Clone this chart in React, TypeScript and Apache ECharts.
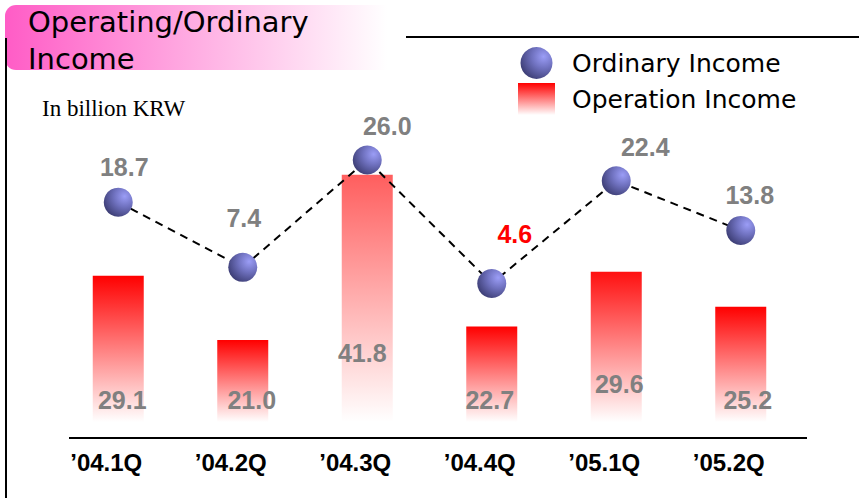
import React, { useEffect, useRef } from 'react';
import * as echarts from 'echarts';

// ---- data ----
const categories = ['’04.1Q', '’04.2Q', '’04.3Q', '’04.4Q', '’05.1Q', '’05.2Q'];
const ordinaryIncome = [18.7, 7.4, 26.0, 4.6, 22.4, 13.8];
const operationIncome = [29.1, 21.0, 41.8, 22.7, 29.6, 25.2];
const seriesNames = ['Ordinary Income', 'Operation Income'];
const titleText = 'Operating/Ordinary\nIncome';
const unitText = 'In billion KRW';

// ---- label placement / styles (not data) ----
const ordinaryLabelOffsets = [[6, -35], [1, -49], [20, -34], [23, -50], [29, -34], [9, -35]];
const ordinaryLabelColors = ['#808080', '#808080', '#808080', '#ff0000', '#808080', '#808080'];
const operationLabelDistance = [10, 10, 57, 10, 26, 10];
const operationLabelDx = [4, 9, -5, -2, 3, 7];
const operationTopColors = ['#ff0000', '#ff0000', '#ff5e5e', '#ff0000', '#ff1010', '#ff0000'];

const barGradient = (top: string) =>
  new echarts.graphic.LinearGradient(0, 0, 0, 1, [
    { offset: 0, color: top },
    { offset: 1, color: '#ffffff' },
  ]);

const ballGradient = () =>
  new echarts.graphic.RadialGradient(0.72, 0.3, 0.8, [
    { offset: 0, color: '#9b9df6' },
    { offset: 0.45, color: '#7072c0' },
    { offset: 1, color: '#3c3d74' },
  ]);

export default function App() {
  const ref = useRef<HTMLDivElement>(null);

  useEffect(() => {
    if (!ref.current) return;
    const chart = echarts.init(ref.current, null, { renderer: 'svg' });

    const barMin = 10.7;
    const option: any = {
      animation: false,
      backgroundColor: '#ffffff',
      grid: { left: 56, right: 56, top: 100, bottom: 76 },
      legend: {
        orient: 'vertical',
        left: 518,
        top: 47,
        padding: 0,
        itemWidth: 37,
        itemHeight: 32,
        itemGap: 4,
        selectedMode: false,
        data: [
          { name: seriesNames[0], icon: 'circle' },
          { name: seriesNames[1], icon: 'rect' },
        ],
        textStyle: {
          fontFamily: 'DejaVu Sans',
          fontSize: 25,
          color: '#000000',
          padding: [0, 0, 0, 12],
        },
      },
      xAxis: {
        type: 'category',
        data: categories,
        axisLine: { show: false },
        axisTick: { show: false },
        axisLabel: {
          fontFamily: 'Liberation Sans',
          fontWeight: 'bold',
          fontSize: 24,
          color: '#000000',
          margin: 28,
          padding: [0, 24, 0, 0],
        },
      },
      yAxis: [
        { type: 'value', min: barMin, max: 51.2, startValue: barMin, show: false, splitLine: { show: false } },
        { type: 'value', min: -19.4, max: 36.4, show: false, splitLine: { show: false } },
      ],
      graphic: [
        {
          type: 'rect',
          shape: { x: 5, y: 5, width: 382, height: 65, r: [11, 0, 0, 11] },
          style: {
            fill: new echarts.graphic.LinearGradient(0, 0, 1, 0, [
              { offset: 0, color: '#ff5cc6' },
              { offset: 1, color: '#ffffff' },
            ]),
          },
          z: 0,
        },
        {
          type: 'text',
          left: 28,
          top: 3,
          style: {
            text: titleText,
            font: '29px "DejaVu Sans"',
            lineHeight: 37,
            fill: '#000000',
          },
          z: 1,
        },
        {
          type: 'line',
          shape: { x1: 6, y1: 38, x2: 6, y2: 498 },
          style: { stroke: '#000000', lineWidth: 2 },
        },
        {
          type: 'line',
          shape: { x1: 406, y1: 37, x2: 859, y2: 37 },
          style: { stroke: '#000000', lineWidth: 2 },
        },
        {
          type: 'line',
          shape: { x1: 69, y1: 438, x2: 807, y2: 438 },
          style: { stroke: '#000000', lineWidth: 2 },
        },
        {
          type: 'text',
          left: 42,
          top: 97,
          style: {
            text: unitText,
            font: '23px "Liberation Serif"',
            fill: '#000000',
          },
        },
      ],
      series: [
        {
          name: seriesNames[1],
          type: 'bar',
          yAxisIndex: 0,
          barWidth: 51,
          itemStyle: { color: barGradient('#ff0000') },
          data: operationIncome.map((v, i) => ({
            value: v,
            itemStyle: { color: barGradient(operationTopColors[i]) },
            label: {
              show: true,
              position: 'insideBottom',
              distance: operationLabelDistance[i],
              offset: [operationLabelDx[i], 0],
              formatter: (p: any) => Number(p.value).toFixed(1),
              fontFamily: 'Liberation Sans',
              fontWeight: 'bold',
              fontSize: 25,
              color: '#808080',
            },
          })),
          z: 2,
        },
        {
          name: seriesNames[0],
          type: 'line',
          yAxisIndex: 1,
          symbol: 'circle',
          symbolSize: 29,
          lineStyle: { color: '#000000', width: 2, type: [8, 6] },
          itemStyle: { color: ballGradient() },
          data: ordinaryIncome.map((v, i) => ({
            value: v,
            label: {
              show: true,
              position: 'inside',
              offset: ordinaryLabelOffsets[i],
              formatter: (p: any) => Number(p.value).toFixed(1),
              fontFamily: 'Liberation Sans',
              fontWeight: 'bold',
              fontSize: 25,
              color: ordinaryLabelColors[i],
            },
          })),
          z: 3,
        },
      ],
    };

    chart.setOption(option);
    return () => chart.dispose();
  }, []);

  return (
    <div
      ref={ref}
      style={{ position: 'fixed', left: 0, top: 0, width: 859, height: 498, background: '#fff' }}
    />
  );
}
